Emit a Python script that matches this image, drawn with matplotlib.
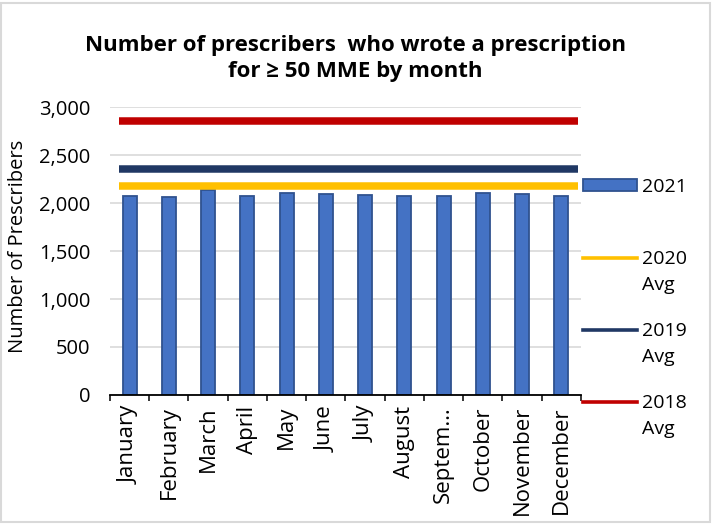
"""Prescribers writing >= 50 MME prescriptions, by month (2021) vs prior-year averages."""
import matplotlib

matplotlib.use("Agg")
import matplotlib.pyplot as plt  # noqa: E402
import numpy as np  # noqa: E402
from matplotlib.legend_handler import HandlerLine2D, HandlerPatch  # noqa: E402
from matplotlib.lines import Line2D  # noqa: E402
from matplotlib.patches import Patch, Rectangle  # noqa: E402

months = ["January", "February", "March", "April", "May", "June", "July",
          "August", "Septem\u2026", "October", "November", "December"]
prescribers_2021 = [2076, 2058, 2135, 2068, 2099, 2089, 2083, 2068, 2078, 2104, 2089, 2068]
avg_2020 = 2180
avg_2019 = 2355
avg_2018 = 2850
yticks = [0, 500, 1000, 1500, 2000, 2500, 3000]

BLUE = "#4472c4"
BLUE_EDGE = "#2f528f"
YELLOW = "#ffc000"
NAVY = "#203864"
RED = "#c00000"
GRID = "#d9d9d9"

plt.rcParams["font.family"] = ["Open Sans", "DejaVu Sans"]
FS = 14.5
LEG_FS = 14
RAISE = 0.78  # shift legend handles up to the first label line (fraction of font size)


class RaisedLine(HandlerLine2D):
    def create_artists(self, legend, orig_handle, xdescent, ydescent, width,
                       height, fontsize, trans):
        arts = super().create_artists(legend, orig_handle, xdescent, ydescent,
                                      width, height, fontsize, trans)
        for a in arts:
            a.set_ydata(np.asarray(a.get_ydata(), float) + RAISE * fontsize)
        return arts


class RaisedPatch(HandlerPatch):
    def create_artists(self, legend, orig_handle, xdescent, ydescent, width,
                       height, fontsize, trans):
        arts = super().create_artists(legend, orig_handle, xdescent, ydescent,
                                      width, height, fontsize, trans)
        for a in arts:
            a.set_y(a.get_y() + RAISE * fontsize)
        return arts


fig = plt.figure(figsize=(7.13, 5.25), dpi=100)
ax = fig.add_axes([110 / 713, 1 - 395 / 525, 471 / 713, 288 / 525])

x = np.arange(len(months))
ax.bar(x, prescribers_2021, width=0.36, color=BLUE, edgecolor=BLUE_EDGE,
       linewidth=1.3, zorder=3)

x0, x1 = -0.27, 11.43
for val, col in ((avg_2020, YELLOW), (avg_2019, NAVY), (avg_2018, RED)):
    ax.plot([x0, x1], [val, val], color=col, lw=5.4, solid_capstyle="butt", zorder=4)

ax.set_xlim(-0.5, len(months) - 0.5)
ax.set_ylim(0, 3000)
ax.set_yticks(yticks)
ax.set_yticklabels([f"{v:,}" for v in yticks])
ax.set_xticks(x)
ax.set_xticklabels(months, rotation=90, va="top", ha="center")
ax.set_xticks(np.arange(-0.5, len(months), 1), minor=True)
ax.tick_params(axis="x", which="major", length=0, pad=8, labelsize=16)
ax.tick_params(axis="x", which="minor", length=4.5, width=1.1, color="black")
ax.tick_params(axis="y", length=0, pad=14, labelsize=FS)
ax.grid(axis="y", color=GRID, lw=1.2, zorder=0)
ax.set_axisbelow(True)
for side in ("left", "right", "top"):
    ax.spines[side].set_visible(False)
ax.spines["bottom"].set_linewidth(1.3)
ax.spines["bottom"].set_zorder(5)

ax.set_ylabel("Number of Prescribers", fontsize=FS)
ax.yaxis.set_label_coords(-0.175, 0.517)

fig.text(0.498, 1 - 35 / 525,
         "Number of prescribers  who wrote a prescription\nfor \u2265 50 MME by month",
         ha="center", va="top", fontsize=16, fontweight="bold", linespacing=1.34)

h_bar = Patch(facecolor=BLUE, edgecolor=BLUE_EDGE, linewidth=1.3)
h20 = Line2D([], [], color=YELLOW, lw=2.6)
h19 = Line2D([], [], color=NAVY, lw=2.6)
h18 = Line2D([], [], color=RED, lw=2.6)
leg = fig.legend([h_bar, h20, h19, h18],
                 ["2021\n ", "2020\nAvg", "2019\nAvg", "2018\nAvg"],
                 loc="upper left", bbox_to_anchor=(583 / 713, 1 - 178 / 525),
                 frameon=False, fontsize=LEG_FS, borderpad=0, borderaxespad=0,
                 handlelength=54 / (LEG_FS * 100 / 72), handletextpad=0.25,
                 handleheight=0.6, labelspacing=1.42,
                 handler_map={Line2D: RaisedLine(), Patch: RaisedPatch()})
for t in leg.get_texts():
    t.set_linespacing(1.6)

fig.patches.append(Rectangle((1 / 713, 3 / 525), 709 / 713, 519 / 525,
                             transform=fig.transFigure, fill=False,
                             edgecolor=GRID, lw=1.5))

fig.savefig("out.png", dpi=100)
